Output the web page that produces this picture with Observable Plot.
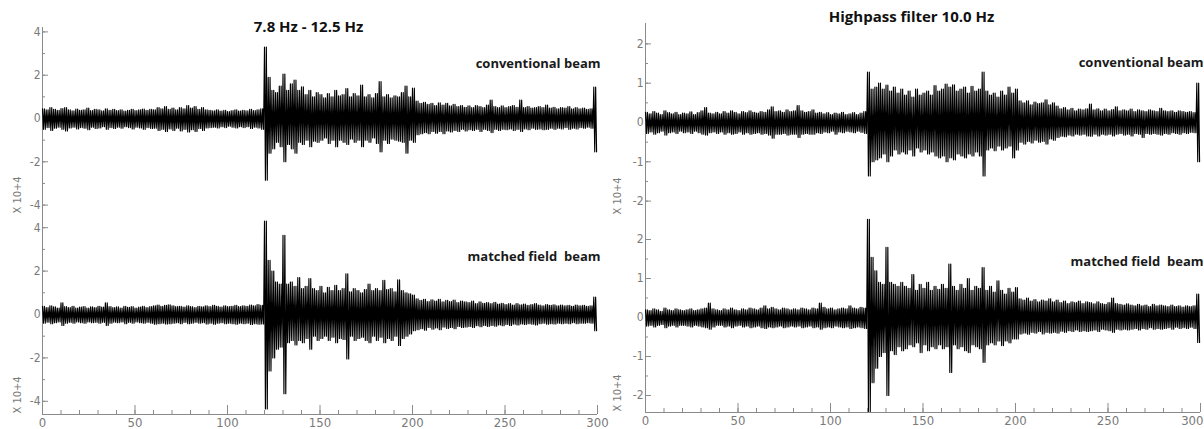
<!DOCTYPE html>
<html><head><meta charset="utf-8">
<script src="https://cdn.jsdelivr.net/npm/d3@7"></script>
<script src="https://cdn.jsdelivr.net/npm/@observablehq/plot@0.6"></script>
<style>
html,body{margin:0;padding:0;background:#fff;}
#chart{position:relative;width:1204px;height:429px;overflow:hidden;background:#fff;}
#chart svg{position:absolute;overflow:visible;}
</style></head><body><div id="chart"></div>
<script>
// Time axis: 2-second bins from 0 to 298 s; each bin holds the upper and lower peak (×10^4)
const binWidth = 2;
const binTimes = d3.range(0, 300, binWidth);

// Panel titles and trace labels
const titles = ["7.8 Hz - 12.5 Hz", "Highpass filter 10.0 Hz"];
const beamLabels = ["conventional beam", "matched field  beam"];
const yUnitLabel = "X 10+4";
const xTicksMajor = [0, 50, 100, 150, 200, 250, 300];
const xTicksMinor = d3.range(0, 301, 10);
const yTicksLeft = [-4, -2, 0, 2, 4];
const yMinorLeft = [-4, -3, -2, -1, 0, 1, 2, 3, 4];
const yTicksRight = [-2, -1, 0, 1, 2];
const yMinorRight = [-2, -1.5, -1, -0.5, 0, 0.5, 1, 1.5, 2];

// 7.8–12.5 Hz, conventional beam
const bandConvHi = [
 0.45,0.4,0.5,0.42,0.38,0.46,0.5,0.4,0.35,0.44,
 0.38,0.4,0.48,0.36,0.42,0.4,0.35,0.45,0.38,0.42,
 0.36,0.4,0.34,0.38,0.42,0.36,0.4,0.44,0.38,0.42,
 0.4,0.5,0.45,0.55,0.42,0.48,0.4,0.5,0.45,0.6,
 0.48,0.55,0.42,0.5,0.4,0.38,0.35,0.4,0.34,0.38,
 0.32,0.36,0.4,0.34,0.38,0.35,0.42,0.36,0.4,0.45,
 3.3,1.9,1.3,1.2,1.5,2.05,1.3,1.6,1.77,1.3,
 1.46,1.1,1.3,1.0,1.2,1.1,0.95,1.15,1.0,1.3,
 1.05,1.1,1.38,1.0,1.15,1.05,1.54,1.0,1.1,0.95,
 1.15,1.7,1.0,1.1,0.95,1.05,1.0,1.2,1.5,1.0,
 1.4,0.8,0.7,0.75,0.65,0.7,0.6,0.72,0.62,0.7,
 0.58,0.65,0.55,0.6,0.52,0.58,0.5,0.6,0.55,0.5,
 0.62,0.85,0.55,0.5,0.58,0.5,0.55,0.6,0.52,0.85,
 0.5,0.55,0.48,0.5,0.55,0.5,0.62,0.48,0.52,0.45,
 0.5,0.48,0.55,0.45,0.5,0.45,0.48,0.42,0.45,1.45];
const bandConvLo = [
 -0.5,-0.42,-0.55,-0.45,-0.4,-0.5,-0.58,-0.44,-0.4,-0.48,
 -0.42,-0.45,-0.52,-0.4,-0.46,-0.44,-0.38,-0.5,-0.42,-0.46,
 -0.4,-0.45,-0.38,-0.42,-0.48,-0.4,-0.44,-0.5,-0.42,-0.46,
 -0.45,-0.55,-0.5,-0.6,-0.48,-0.55,-0.45,-0.58,-0.5,-0.62,
 -0.52,-0.6,-0.46,-0.55,-0.44,-0.42,-0.4,-0.44,-0.38,-0.42,
 -0.36,-0.4,-0.44,-0.38,-0.42,-0.38,-0.46,-0.4,-0.44,-0.5,
 -2.85,-1.6,-1.4,-1.1,-1.3,-2.0,-1.2,-1.4,-1.6,-1.1,
 -1.2,-1.0,-1.3,-1.05,-1.1,-1.0,-0.9,-1.15,-1.0,-1.3,
 -1.0,-1.1,-1.2,-0.95,-1.1,-1.0,-1.3,-1.0,-1.1,-0.9,
 -1.15,-1.54,-1.0,-1.15,-0.95,-1.0,-1.05,-1.1,-1.6,-1.0,
 -1.1,-0.75,-0.7,-0.65,-0.7,-0.6,-0.68,-0.6,-0.7,-0.58,
 -0.62,-0.55,-0.6,-0.5,-0.58,-0.52,-0.55,-0.5,-0.6,-0.5,
 -0.55,-0.65,-0.5,-0.55,-0.5,-0.52,-0.48,-0.55,-0.5,-0.6,
 -0.48,-0.52,-0.45,-0.5,-0.48,-0.52,-0.5,-0.45,-0.5,-0.45,
 -0.48,-0.42,-0.5,-0.45,-0.48,-0.42,-0.45,-0.4,-0.45,-1.54];

// 7.8–12.5 Hz, matched field beam
const bandMfHi = [
 0.38,0.32,0.4,0.35,0.3,0.54,0.36,0.32,0.38,0.3,
 0.34,0.36,0.3,0.35,0.32,0.38,0.34,0.54,0.36,0.32,
 0.35,0.3,0.38,0.33,0.36,0.3,0.34,0.38,0.32,0.36,
 0.4,0.44,0.38,0.42,0.45,0.4,0.36,0.38,0.34,0.4,
 0.36,0.32,0.38,0.35,0.4,0.36,0.42,0.38,0.34,0.4,
 0.36,0.38,0.42,0.36,0.4,0.38,0.44,0.4,0.46,0.42,
 4.3,2.5,2.0,1.5,1.4,3.65,1.4,1.5,1.3,1.7,
 1.2,1.3,1.65,1.2,1.1,1.3,1.0,1.25,1.1,1.35,
 1.1,1.2,1.88,1.05,1.2,1.1,1.0,1.15,1.4,1.1,
 1.2,1.1,1.57,1.15,1.2,1.05,1.6,1.1,1.0,0.95,
 0.9,0.72,0.65,0.7,0.6,0.68,0.62,0.7,0.58,0.65,
 0.6,0.66,0.55,0.62,0.58,0.55,0.62,0.5,0.58,0.52,
 0.55,0.5,0.56,0.48,0.52,0.46,0.5,0.44,0.5,0.45,
 0.48,0.42,0.46,0.5,0.44,0.4,0.46,0.42,0.45,0.4,
 0.44,0.4,0.42,0.38,0.44,0.4,0.42,0.38,0.4,0.8];
const bandMfLo = [
 -0.4,-0.35,-0.42,-0.38,-0.34,-0.5,-0.4,-0.36,-0.4,-0.34,
 -0.38,-0.4,-0.34,-0.38,-0.36,-0.4,-0.36,-0.5,-0.4,-0.35,
 -0.38,-0.34,-0.42,-0.36,-0.4,-0.34,-0.38,-0.4,-0.36,-0.4,
 -0.45,-0.42,-0.4,-0.44,-0.42,-0.4,-0.38,-0.42,-0.36,-0.42,
 -0.4,-0.36,-0.4,-0.38,-0.44,-0.4,-0.45,-0.4,-0.38,-0.42,
 -0.4,-0.42,-0.45,-0.4,-0.42,-0.4,-0.46,-0.42,-0.45,-0.44,
 -4.35,-2.6,-2.0,-1.6,-1.5,-3.65,-1.3,-1.2,-1.4,-1.2,
 -1.3,-1.1,-1.6,-1.0,-1.2,-1.1,-1.0,-1.2,-1.05,-1.3,
 -1.1,-1.15,-2.05,-1.0,-1.2,-1.1,-1.05,-1.2,-1.3,-1.0,
 -1.2,-1.05,-1.3,-1.1,-1.2,-1.0,-1.43,-1.1,-1.0,-0.9,
 -0.75,-0.7,-0.65,-0.72,-0.6,-0.68,-0.62,-0.7,-0.58,-0.64,
 -0.6,-0.65,-0.55,-0.6,-0.58,-0.55,-0.6,-0.52,-0.56,-0.5,
 -0.55,-0.5,-0.54,-0.48,-0.52,-0.46,-0.5,-0.45,-0.48,-0.44,
 -0.46,-0.42,-0.45,-0.48,-0.42,-0.4,-0.45,-0.42,-0.44,-0.4,
 -0.42,-0.4,-0.42,-0.38,-0.42,-0.4,-0.4,-0.38,-0.4,-0.75];

// Highpass 10 Hz, conventional beam
const hpConvHi = [
 0.26,0.22,0.28,0.24,0.2,0.3,0.25,0.22,0.26,0.2,
 0.24,0.22,0.27,0.2,0.25,0.3,0.38,0.24,0.22,0.26,
 0.22,0.28,0.24,0.3,0.26,0.22,0.28,0.25,0.3,0.26,
 0.24,0.28,0.26,0.32,0.4,0.28,0.3,0.26,0.32,0.28,
 0.3,0.43,0.3,0.26,0.28,0.32,0.24,0.26,0.22,0.25,
 0.2,0.24,0.22,0.26,0.2,0.22,0.25,0.2,0.24,0.28,
 1.28,0.85,0.9,1.0,0.85,0.95,0.8,0.9,0.75,0.85,
 0.7,0.8,0.65,0.85,0.7,0.75,0.8,0.7,0.94,0.8,
 0.85,0.98,0.9,0.96,0.8,0.85,0.9,0.75,0.92,0.8,
 0.85,1.28,0.8,0.7,0.75,0.65,0.8,0.7,0.9,0.75,
 0.85,0.55,0.5,0.55,0.45,0.52,0.48,0.5,0.58,0.45,
 0.5,0.42,0.35,0.38,0.32,0.36,0.3,0.34,0.32,0.35,
 0.47,0.32,0.35,0.3,0.34,0.3,0.33,0.4,0.3,0.32,
 0.3,0.34,0.28,0.32,0.3,0.28,0.32,0.3,0.28,0.36,
 0.3,0.28,0.3,0.26,0.3,0.28,0.26,0.28,0.25,1.0];
const hpConvLo = [
 -0.28,-0.24,-0.3,-0.26,-0.22,-0.32,-0.26,-0.24,-0.28,-0.22,
 -0.26,-0.24,-0.28,-0.22,-0.26,-0.3,-0.32,-0.26,-0.24,-0.28,
 -0.24,-0.3,-0.26,-0.3,-0.28,-0.24,-0.3,-0.26,-0.3,-0.28,
 -0.26,-0.3,-0.28,-0.32,-0.4,-0.3,-0.3,-0.28,-0.32,-0.3,
 -0.3,-0.38,-0.3,-0.28,-0.3,-0.3,-0.26,-0.28,-0.24,-0.26,
 -0.22,-0.3,-0.24,-0.26,-0.22,-0.24,-0.26,-0.22,-0.25,-0.28,
 -1.36,-1.0,-0.95,-0.9,-0.8,-1.0,-0.85,-0.7,-0.8,-0.75,
 -0.8,-0.7,-0.85,-0.65,-0.75,-0.7,-0.8,-0.75,-0.85,-0.9,
 -0.85,-1.0,-0.9,-0.95,-0.8,-0.85,-0.9,-0.8,-0.85,-0.75,
 -0.85,-1.36,-0.7,-0.65,-0.72,-0.6,-0.7,-0.65,-0.6,-0.9,
 -0.7,-0.5,-0.55,-0.48,-0.52,-0.45,-0.5,-0.48,-0.55,-0.42,
 -0.45,-0.38,-0.35,-0.36,-0.32,-0.34,-0.3,-0.32,-0.3,-0.34,
 -0.35,-0.3,-0.34,-0.3,-0.32,-0.3,-0.34,-0.3,-0.28,-0.32,
 -0.3,-0.34,-0.28,-0.3,-0.38,-0.28,-0.3,-0.28,-0.3,-0.32,
 -0.28,-0.3,-0.26,-0.28,-0.3,-0.26,-0.28,-0.25,-0.26,-1.0];

// Highpass 10 Hz, matched field beam
const hpMfHi = [
 0.2,0.18,0.22,0.2,0.16,0.24,0.2,0.18,0.22,0.2,
 0.18,0.2,0.22,0.18,0.2,0.22,0.24,0.37,0.22,0.2,
 0.18,0.22,0.2,0.24,0.2,0.18,0.22,0.2,0.24,0.22,
 0.2,0.24,0.3,0.22,0.26,0.22,0.2,0.24,0.22,0.2,
 0.22,0.2,0.24,0.22,0.2,0.24,0.22,0.37,0.26,0.22,
 0.24,0.2,0.22,0.24,0.22,0.3,0.24,0.22,0.26,0.24,
 2.52,1.54,1.2,0.9,0.85,1.8,0.9,0.85,0.8,0.9,
 0.8,0.75,1.1,0.7,0.85,0.75,0.9,0.7,0.8,0.72,
 0.85,0.75,1.37,0.8,0.7,0.85,0.75,1.0,0.7,0.8,
 0.75,1.28,0.7,0.8,0.65,0.94,0.7,0.6,0.75,0.65,
 0.77,0.48,0.45,0.5,0.42,0.46,0.4,0.45,0.42,0.48,
 0.4,0.45,0.38,0.42,0.36,0.4,0.38,0.42,0.36,0.4,
 0.38,0.35,0.4,0.36,0.34,0.38,0.5,0.36,0.34,0.32,
 0.35,0.32,0.3,0.34,0.3,0.32,0.28,0.34,0.3,0.32,
 0.3,0.28,0.32,0.28,0.3,0.27,0.3,0.28,0.3,0.6];
const hpMfLo = [
 -0.22,-0.2,-0.24,-0.2,-0.18,-0.26,-0.22,-0.2,-0.24,-0.2,
 -0.2,-0.22,-0.24,-0.2,-0.22,-0.24,-0.26,-0.3,-0.24,-0.2,
 -0.2,-0.24,-0.22,-0.26,-0.22,-0.2,-0.24,-0.22,-0.26,-0.24,
 -0.22,-0.26,-0.28,-0.24,-0.26,-0.24,-0.22,-0.26,-0.24,-0.22,
 -0.24,-0.22,-0.26,-0.24,-0.22,-0.26,-0.24,-0.3,-0.26,-0.24,
 -0.26,-0.22,-0.24,-0.26,-0.24,-0.28,-0.26,-0.24,-0.26,-0.28,
 -2.42,-1.67,-1.3,-1.0,-0.9,-2.0,-0.85,-0.95,-0.75,-0.85,
 -0.8,-0.7,-0.75,-0.65,-0.9,-0.7,-0.85,-0.75,-0.8,-0.7,
 -0.8,-0.75,-1.41,-0.7,-0.8,-0.75,-0.85,-0.9,-0.7,-0.75,
 -0.8,-1.15,-0.7,-0.65,-0.7,-0.6,-0.72,-0.6,-0.65,-0.55,
 -0.55,-0.42,-0.4,-0.43,-0.38,-0.4,-0.36,-0.42,-0.38,-0.4,
 -0.38,-0.4,-0.35,-0.38,-0.34,-0.36,-0.32,-0.36,-0.34,-0.36,
 -0.34,-0.32,-0.36,-0.3,-0.32,-0.34,-0.38,-0.3,-0.32,-0.3,
 -0.32,-0.3,-0.28,-0.32,-0.28,-0.3,-0.26,-0.3,-0.28,-0.3,
 -0.28,-0.26,-0.3,-0.25,-0.28,-0.26,-0.28,-0.25,-0.28,-0.64];

// Each bin's peak pair is traced as a rapid oscillation between its upper and lower peak
function oscillation(hi, lo) {
  const pts = [];
  binTimes.forEach((t, i) => {
    pts.push({t, v: hi[i]});
    pts.push({t: t + binWidth * 0.25, v: lo[i]});
    pts.push({t: t + binWidth * 0.5, v: hi[i]});
    pts.push({t: t + binWidth * 0.75, v: lo[i]});
  });
  return pts;
}

const AXIS = "#8a8a8a";
const LABEL = "#7a7a7a";
const tickFont = "'Liberation Sans Narrow','DejaVu Sans Condensed',sans-serif";
const boldFont = "'Open Sans',Lato,sans-serif";
const plainNum = d => String(d);

function panel(o) {
  const marks = [
    Plot.ruleX([0], {stroke: AXIS}),
    Plot.axisY({ticks: o.yMajor, tickSize: 0, tickPadding: 2, tickFormat: plainNum, label: null, fill: LABEL, fontSize: 12, fontFamily: tickFont}),
    Plot.axisY({ticks: o.yMajor, tickSize: 6, dx: 6, tickFormat: () => "", label: null, stroke: AXIS}),
    Plot.axisY({ticks: o.yMinor, tickSize: 3, dx: 3, tickFormat: () => "", label: null, stroke: AXIS}),
    Plot.line(oscillation(o.hi, o.lo), {x: "t", y: "v", stroke: "#000", strokeWidth: 1.15}),
    Plot.text([yUnitLabel], {frameAnchor: "bottom-left", rotate: -90, textAnchor: "start", dx: o.unitDx, dy: o.unitDy, fontSize: 11, fill: LABEL, fontFamily: tickFont}),
    Plot.text([o.beam], {frameAnchor: "top-right", textAnchor: "end", dx: 3, dy: o.beamDy, fontSize: 13, fontWeight: "bold", fill: "#1a1a1a", fontFamily: boldFont})
  ];
  if (o.title) {
    marks.push(Plot.text([o.title], {frameAnchor: "top", dx: o.titleDx, dy: o.titleDy, fontSize: 15, fontWeight: "bold", fill: "#111", fontFamily: boldFont}));
  }
  if (o.showX) {
    const inner = xTicksMajor.slice(0, -1);
    const last = xTicksMajor.slice(-1);
    marks.push(
      Plot.ruleY([o.yDomain[0]], {stroke: AXIS}),
      Plot.axisX({ticks: o.lastEnd ? inner : xTicksMajor, tickSize: 0, tickPadding: 3, label: null, fill: LABEL, fontSize: 13, fontFamily: tickFont}),
      Plot.axisX({ticks: xTicksMajor, tickSize: 9, dy: -9, tickFormat: () => "", label: null, stroke: AXIS}),
      Plot.axisX({ticks: xTicksMinor, tickSize: 4, dy: -4, tickFormat: () => "", label: null, stroke: AXIS})
    );
    if (o.lastEnd) {
      marks.push(Plot.axisX({ticks: last, tickSize: 0, tickPadding: 3, label: null, textAnchor: "end", dx: 3, fill: LABEL, fontSize: 13, fontFamily: tickFont}));
    }
  }
  const svg = Plot.plot({
    width: o.width, height: o.height,
    marginLeft: o.marginLeft, marginRight: o.marginRight,
    marginTop: o.marginTop, marginBottom: o.marginBottom,
    x: {domain: [0, 300], axis: o.showX ? undefined : null},
    y: {domain: o.yDomain},
    style: {background: "transparent", overflow: "visible", color: AXIS},
    marks
  });
  svg.style.left = o.left + "px";
  svg.style.top = o.top + "px";
  document.getElementById("chart").appendChild(svg);
}

panel({hi: bandConvHi, lo: bandConvLo, left: 0, top: 0, width: 602, height: 216,
  marginLeft: 42, marginRight: 5, marginTop: 27, marginBottom: 0,
  yDomain: [-4.527, 4.203], yMajor: yTicksLeft, yMinor: yMinorLeft,
  title: titles[0], titleDx: -11.5, titleDy: -6, beam: beamLabels[0], beamDy: 31.5,
  unitDx: -21.5, unitDy: -3, showX: false});
panel({hi: bandMfHi, lo: bandMfLo, left: 0, top: 216, width: 602, height: 213,
  marginLeft: 42, marginRight: 5, marginTop: 0, marginBottom: 15,
  yDomain: [-4.608, 4.516], yMajor: yTicksLeft, yMinor: yMinorLeft,
  beam: beamLabels[1], beamDy: 35, unitDx: -21.5, unitDy: -1, showX: true});
panel({hi: hpConvHi, lo: hpConvLo, left: 602, top: 0, width: 602, height: 216,
  marginLeft: 43, marginRight: 4, marginTop: 23, marginBottom: 0,
  yDomain: [-2.392, 2.519], yMajor: yTicksRight, yMinor: yMinorRight,
  title: titles[1], titleDx: -11.5, titleDy: -12, beam: beamLabels[0], beamDy: 34,
  unitDx: -24.5, unitDy: -2, showX: false});
panel({hi: hpMfHi, lo: hpMfLo, left: 602, top: 216, width: 602, height: 213,
  marginLeft: 43, marginRight: 4, marginTop: 0, marginBottom: 17,
  yDomain: [-2.436, 2.590], yMajor: yTicksRight, yMinor: yMinorRight,
  beam: beamLabels[1], beamDy: 40.5, unitDx: -24.5, unitDy: -1, showX: true, lastEnd: true});
</script></body></html>
